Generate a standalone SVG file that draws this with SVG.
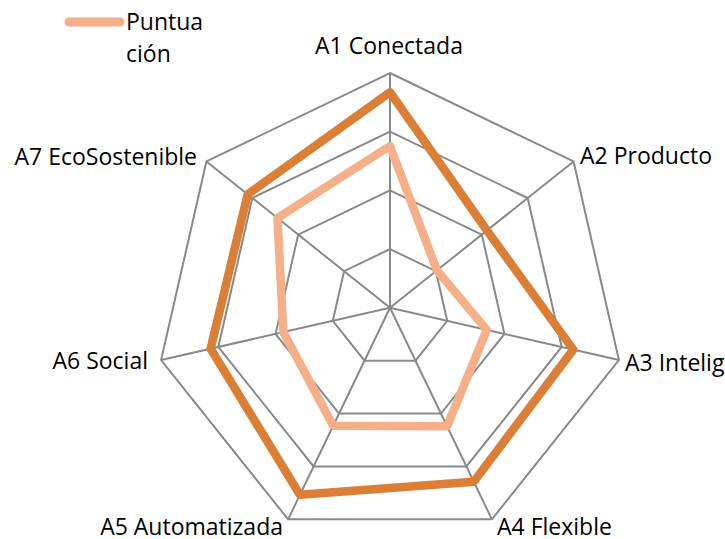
<svg xmlns="http://www.w3.org/2000/svg" width="725" height="539" viewBox="0 0 725 539">
<style>
.grid{fill:none;stroke:#898989;stroke-width:2;stroke-linejoin:miter}
.axis{stroke:#898989;stroke-width:2}
.s1{fill:none;stroke:#DB7F37;stroke-width:8.5;stroke-linejoin:round}
.s2{fill:none;stroke:#F6B089;stroke-width:8.5;stroke-linejoin:round}
.lbl{font-family:"Open Sans","Liberation Sans",sans-serif;font-size:23px;fill:#000}
</style>
<rect width="725" height="539" fill="#fff"/>
<g id="grid">
<polygon class="grid" points="390,73 573.57,161.41 618.91,360.05 491.88,519.35 288.12,519.35 161.09,360.05 206.43,161.41"/>
<polygon class="grid" points="390,131.7 527.68,198 561.69,346.99 466.41,466.46 313.59,466.46 218.31,346.99 252.32,198"/>
<polygon class="grid" points="390,190.4 481.79,234.6 504.46,333.92 440.94,413.57 339.06,413.57 275.54,333.92 298.21,234.6"/>
<polygon class="grid" points="390,249.1 435.89,271.2 447.23,320.86 415.47,360.69 364.53,360.69 332.77,320.86 344.11,271.2"/>
</g>
<g id="connectors">
<line class="axis" x1="390" y1="307.8" x2="390" y2="73"/>
<line class="axis" x1="390" y1="307.8" x2="573.57" y2="161.41"/>
<line class="axis" x1="390" y1="307.8" x2="618.91" y2="360.05"/>
<line class="axis" x1="390" y1="307.8" x2="491.88" y2="519.35"/>
<line class="axis" x1="390" y1="307.8" x2="288.12" y2="519.35"/>
<line class="axis" x1="390" y1="307.8" x2="161.09" y2="360.05"/>
<line class="axis" x1="390" y1="307.8" x2="206.43" y2="161.41"/>
</g>
<g id="series-dark">
<polygon class="s1" points="390,92.3 486.95,230.49 573.29,349.63 473.74,481.69 299.93,494.84 210.61,348.74 247.71,194.32"/>
</g>
<g id="series-puntuacion">
<polygon class="s2" points="390,146 436.91,270.39 486.81,329.9 447.06,426.28 333.16,425.83 283.34,332.14 277.42,218.02"/>
</g>
<g id="labels">
<text class="lbl" x="389" y="54" text-anchor="middle">A1 Conectada</text>
<text class="lbl" x="580" y="164">A2 Producto</text>
<text class="lbl" x="625" y="371">A3 Inteligente</text>
<text class="lbl" x="497" y="535">A4 Flexible</text>
<text class="lbl" x="283" y="535" text-anchor="end">A5 Automatizada</text>
<text class="lbl" x="148" y="369" text-anchor="end">A6 Social</text>
<text class="lbl" x="197" y="165" text-anchor="end">A7 EcoSostenible</text>
</g>
<g id="legend">
<line x1="69" y1="22" x2="120" y2="22" stroke="#F6B089" stroke-width="9" stroke-linecap="round"/>
<text class="lbl" x="126" y="30">Puntua</text>
<text class="lbl" x="126" y="62">ción</text>
</g>
</svg>
